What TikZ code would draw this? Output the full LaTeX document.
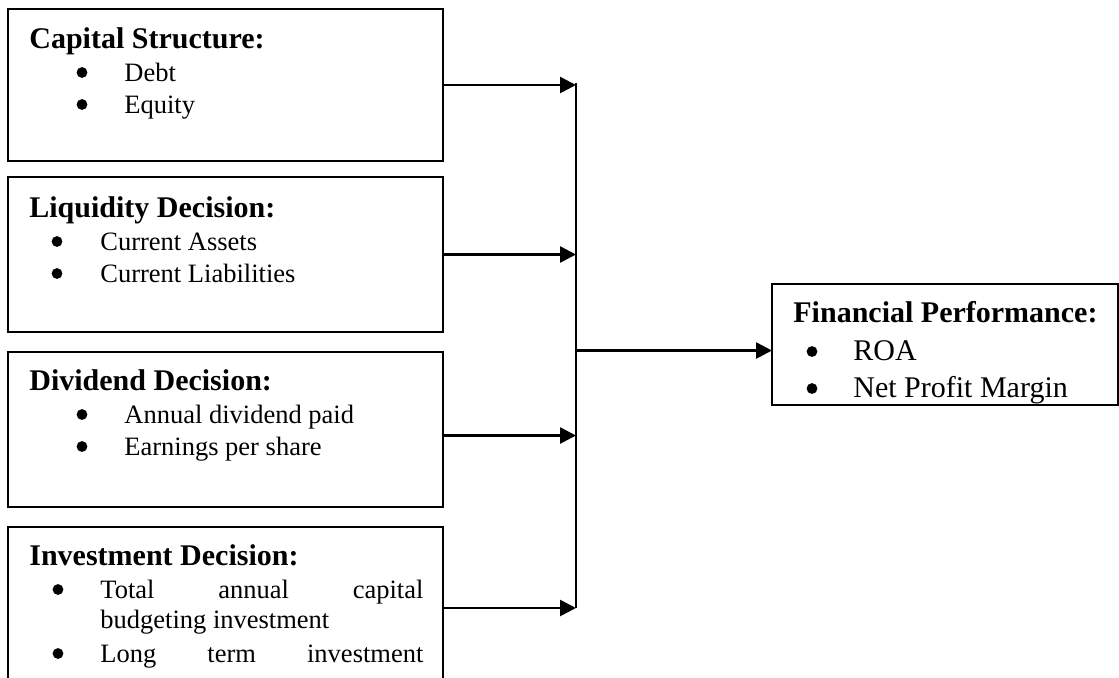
\documentclass[tikz,border=0pt]{standalone}
\usepackage{fontspec}
\setmainfont{Liberation Serif}
\usetikzlibrary{arrows.meta,positioning,calc}

\tikzset{
    factor/.style={rectangle, draw, line width=0.8pt, anchor=north west, inner sep=0pt, outer sep=0pt, minimum width=217.5pt},
    head/.style={anchor=base west, inner sep=0pt, font=\fontsize{15}{18}\selectfont\bfseries},
    item/.style={anchor=base west, inner sep=0pt, font=\fontsize{13.25}{15}\selectfont},
    bigitem/.style={anchor=base west, inner sep=0pt, font=\fontsize{15}{18}\selectfont},
    feed/.style={line width=1.3pt, -{Triangle[length=8pt,width=8pt]}}
}

\begin{document}
\begin{tikzpicture}[x=0.5pt, y=-0.5pt]
    \useasboundingbox (0,0) rectangle (1119,677);

    % the four decision boxes
    \node (cap) [factor, minimum height=76pt] at (8,9) {};
    \node (liq) [factor, minimum height=77.5pt] at (8,177) {};
    \node (div) [factor, minimum height=77.5pt] at (8,352) {};
    \node (inv) [factor, minimum height=81pt] at (8,527) {};
    \node (perf) [factor, minimum width=173pt, minimum height=60.5pt] at (772,284) {};

    \node (caphead) [head] at (29,48) {Capital Structure:};
    \node (capa) [item] at (124,81) {Debt};
    \node (capb) [item] at (124,113) {Equity};

    \node (liqhead) [head] at (29,217) {Liquidity Decision:};
    \node (liqa) [item] at (100,250) {Current Assets};
    \node (liqb) [item] at (100,282) {Current Liabilities};

    \node (divhead) [head] at (29,390) {Dividend Decision:};
    \node (diva) [item] at (124,423) {Annual dividend paid};
    \node (divb) [item] at (124,455) {Earnings per share};

    \node (invhead) [head] at (29,565) {Investment Decision:};
    \node (inva) [item] at (100,598) {\makebox[161.5pt][s]{Total\hfill annual\hfill capital}};
    \node (invb) [item] at (100,628) {budgeting investment};
    \node (invc) [item] at (100,662) {\makebox[161.5pt][s]{Long\hfill term\hfill investment}};

    \node (perfhead) [head] at (793,322) {Financial Performance:};
    \node (perfa) [bigitem] at (853,360) {ROA};
    \node (perfb) [bigitem] at (853,397) {Net Profit Margin};

    % bullets
    \foreach \x/\y in {82/81, 82/113, 57/250, 57/282, 82/423, 82/455, 58/598, 58/662, 812/360, 812/397}
        \fill (\x,\y-8.5) circle (2.7pt);

    % joining line
    \coordinate (top) at (576,83);
    \coordinate (bot) at (576,608);
    \draw [line width=1pt] (top) -- (bot);

    \draw [feed] (cap.east) -- (cap.east -| top);
    \draw [feed] (liq.east) -- (liq.east -| top);
    \draw [feed] ([yshift=-3pt]div.east) -- ([yshift=-3pt]div.east -| top);
    \draw [feed] (inv.east) -- (inv.east -| top);
    \draw [feed] ([yshift=-3pt]perf.west -| top) -- ([yshift=-3pt]perf.west);
\end{tikzpicture}
\end{document}
